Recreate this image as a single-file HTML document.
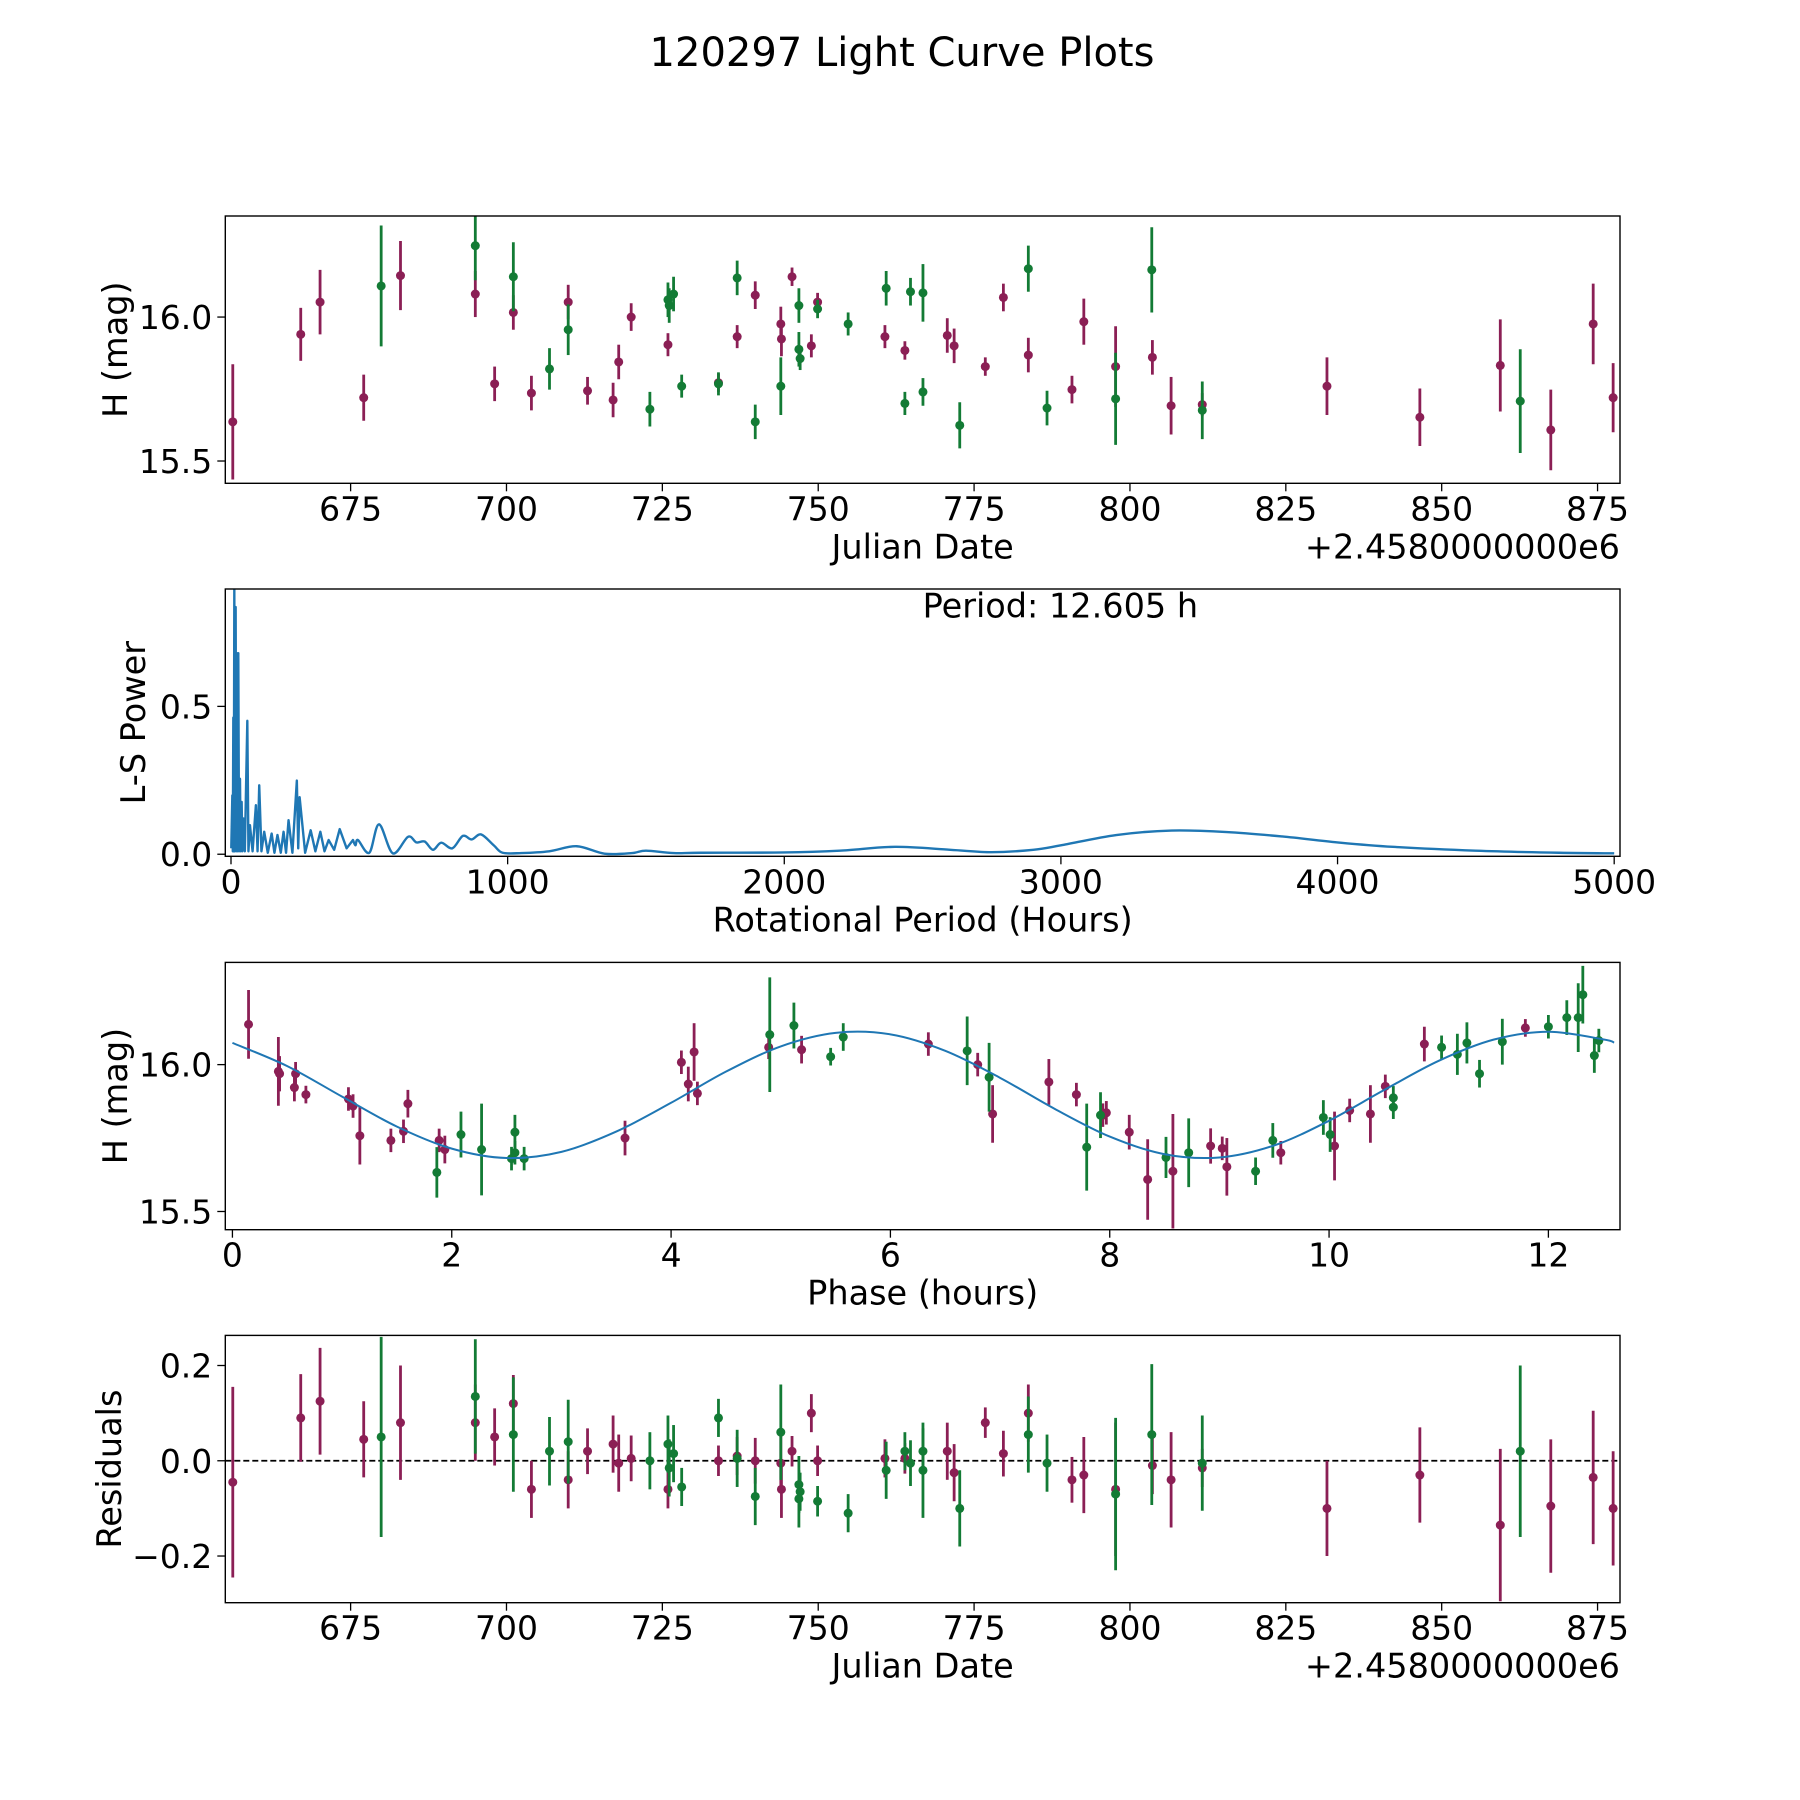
<!DOCTYPE html>
<html><head><meta charset="utf-8"><style>
html,body{margin:0;padding:0;background:#fff;}
svg{display:block;font-family:"DejaVu Sans","Liberation Sans",sans-serif;}
</style></head><body>
<svg id="fig" width="1800" height="1800" viewBox="0 0 1800 1800" xmlns="http://www.w3.org/2000/svg">
<rect width="1800" height="1800" fill="#fff"/>
<text x="902" y="66" font-size="40" text-anchor="middle">120297 Light Curve Plots</text>
</svg>
<script>
// ---- Panel 1 / 4 data (Julian date offset from 2458000) ----
const jdM=[656.1,667.0,670.1,677.1,683.0,695.0,698.1,701.1,704.0,709.9,713.0,717.1,718.0,720.0,725.9,734.0,737.0,739.9,744.0,744.1,745.8,748.9,749.9,760.7,763.9,770.7,771.8,776.8,779.7,783.7,790.7,792.6,797.7,803.6,806.6,811.6,831.6,846.5,859.4,867.5,874.3,877.5];
const magM=[15.636,15.94,16.052,15.72,16.144,16.08,15.768,16.016,15.736,16.052,15.744,15.712,15.844,16.0,15.904,15.772,15.932,16.076,15.976,15.924,16.14,15.90,16.052,15.932,15.884,15.936,15.90,15.828,16.068,15.868,15.748,15.984,15.828,15.86,15.692,15.696,15.76,15.652,15.832,15.608,15.976,15.72];
const errM=[.2,.092,.112,.08,.12,.08,.06,.06,.06,.06,.048,.06,.06,.048,.04,.032,.04,.048,.06,.06,.032,.04,.032,.04,.032,.06,.06,.032,.048,.06,.048,.08,.14,.06,.1,.04,.1,.1,.16,.14,.14,.12];
const resM=[-0.045,.09,.125,.045,.08,.08,.05,.12,-.06,-.04,.02,.035,-.005,.005,-.06,0,.01,0,-.005,-.06,.02,.1,0,.005,.005,.02,-.025,.08,.015,.1,-.04,-.03,-.06,-.01,-.04,-.015,-.1,-.03,-.135,-.095,-.035,-.1];
const jdG=[679.9,695.0,701.1,706.9,709.9,723.0,725.9,726.1,726.8,728.1,734.0,737.0,739.9,744.0,746.9,746.9,747.1,749.9,754.8,760.9,763.9,764.8,766.8,766.8,772.7,783.7,786.7,797.7,803.5,811.6,862.6];
const magG=[16.108,16.248,16.14,15.82,15.956,15.68,16.06,16.04,16.08,15.76,15.768,16.136,15.636,15.76,16.04,15.888,15.856,16.028,15.976,16.1,15.70,16.088,16.084,15.74,15.624,16.168,15.684,15.716,16.164,15.676,15.708];
const errG=[.21,.12,.12,.072,.088,.06,.06,.06,.06,.04,.04,.06,.06,.1,.06,.06,.04,.032,.04,.06,.04,.048,.1,.048,.08,.08,.06,.16,.148,.1,.18];
const resG=[.05,.135,.055,.02,.04,0,.035,-.015,.015,-.055,.09,.005,-.075,.06,-.05,-.08,-.065,-.085,-.11,-.02,.02,-.005,-.02,.02,-.1,.055,-.005,-.07,.055,-.005,.02];
// ---- Panel 2 periodogram ----
const lsPeriod=[1,4.8,6.5,8.4,10,12,14,16.8,19,21.6,24,26.4,29,32.5,35,38.5,41,44.5,50,59,63,68.5,78,90,96,102,110,120,133,147,157,168,180,190,199,208,222,238,243,248,268,288,305,323,338,353,373,393,418,441,450,459,500,535,585,640,670,700,730,760,800,838,870,904,950,982,1050,1150,1250,1350,1450,1500,1600,1700,2000,2200,2400,2600,2750,2900,3000,3200,3400,3600,3800,4000,4200,4500,4800,5000];
const lsPower=[0.02,0.199,0.01,0.462,0.01,0.895,0.01,0.836,0.01,0.68,0.01,0.68,0.01,0.255,0.01,0.177,0.01,0.121,0.01,0.451,0.01,0.098,0.01,0.166,0.01,0.233,0.01,0.076,0.005,0.07,0.005,0.065,0.005,0.076,0.005,0.115,0.005,0.249,0.02,0.193,0.005,0.081,0.01,0.076,0.01,0.048,0.015,0.085,0.02,0.048,0.03,0.048,0.005,0.101,0.003,0.059,0.04,0.043,0.015,0.039,0.02,0.062,0.05,0.067,0.03,0.005,0.004,0.01,0.027,0.002,0.004,0.012,0.004,0.005,0.006,0.012,0.025,0.015,0.007,0.015,0.03,0.065,0.08,0.075,0.06,0.04,0.025,0.012,0.005,0.003];
// ---- Panel 3 phased data ----
const phM=[0.147,0.419,0.43,0.565,0.576,0.67,1.058,1.10,1.162,1.445,1.56,1.60,1.885,1.937,3.58,4.094,4.157,4.21,4.24,4.89,5.19,6.346,6.796,6.932,7.445,7.696,7.937,7.969,8.178,8.346,8.576,8.92,9.026,9.068,9.56,10.05,10.188,10.377,10.513,10.869,11.79];
const pmM=[16.137,15.977,15.969,15.922,15.969,15.898,15.883,15.859,15.758,15.742,15.773,15.867,15.742,15.711,15.75,16.008,15.934,16.043,15.902,16.059,16.051,16.07,16.0,15.832,15.941,15.898,15.828,15.836,15.77,15.609,15.637,15.723,15.715,15.652,15.70,15.723,15.844,15.832,15.926,16.07,16.125];
const peM=[.117,.117,.06,.047,.04,.03,.04,.04,.098,.04,.04,.047,.04,.047,.059,.04,.059,.098,.04,.04,.047,.04,.04,.098,.078,.04,.04,.04,.059,.137,.195,.06,.04,.098,.04,.117,.04,.098,.04,.059,.03];
const phG=[1.864,2.084,2.272,2.545,2.576,2.576,2.66,4.90,5.12,5.455,5.57,6.70,6.90,7.79,7.916,8.513,8.72,9.33,9.487,9.948,10.01,10.586,10.586,11.026,11.17,11.257,11.372,11.58,12.0,12.168,12.272,12.314,12.419,12.46];
const pmG=[15.633,15.762,15.711,15.68,15.77,15.70,15.68,16.102,16.133,16.027,16.094,16.047,15.957,15.719,15.828,15.684,15.70,15.637,15.742,15.82,15.762,15.887,15.855,16.059,16.035,16.074,15.969,16.078,16.129,16.16,16.16,16.238,16.031,16.082];
const peG=[.086,.078,.156,.04,.059,.04,.04,.195,.078,.03,.047,.117,.117,.148,.078,.07,.117,.047,.059,.059,.059,.04,.04,.04,.07,.07,.047,.078,.04,.059,.117,.098,.059,.04];
const fitPhase=[0,0.5,1,1.5,2,2.5,3,3.5,4,4.5,5,5.5,6,6.5,7,7.5,8,8.5,9,9.5,10,10.5,11,11.5,12,12.5,12.6];
const fitMag=[16.074,15.995,15.891,15.789,15.714,15.682,15.703,15.772,15.870,15.976,16.062,16.108,16.103,16.047,15.955,15.849,15.755,15.695,15.684,15.725,15.809,15.913,16.013,16.085,16.112,16.086,16.075];
// ---- ticks ----
const jdTicks=[675,700,725,750,775,800,825,850,875];
const magTicks=[15.5,16.0];
const lsXTicks=[0,1000,2000,3000,4000,5000];
const lsYTicks=[0,0.5];
const phTicks=[0,2,4,6,8,10,12];
const resTicks=[-0.2,0,0.2];

const NS="http://www.w3.org/2000/svg";
const svg=document.getElementById('fig');
const MAG='#8b1f55', GRN='#137b35', BLUE='#1f77b4';
const TICKFS=33, LABFS=33.5;
function mk(tag,attrs,parent){const e=document.createElementNS(NS,tag);for(const k in attrs)e.setAttribute(k,attrs[k]);(parent||svg).appendChild(e);return e;}
const L=225.3,R=1620,H=267.3;
function makeAxes(top,xmin,xmax,ymin,ymax,name){
  const g=mk('g',{});
  
  
  const sx=v=>L+(v-xmin)/(xmax-xmin)*(R-L);
  const sy=v=>top+H-(v-ymin)/(ymax-ymin)*H;
  const clip=mk('clipPath',{id:'clip-'+name},g);
  mk('rect',{x:L,y:top,width:R-L,height:H},clip);
  const plot=mk('g',{'clip-path':'url(#clip-'+name+')'},g);
  return {g,plot,sx,sy,top};
}
function frame(ax){
  const r=mk('rect',{x:L,y:ax.top,width:R-L,height:H,fill:'none',stroke:'#000','stroke-width':1.4},ax.g);
  
  
}
function xTicks(ax,ticks,fmt){
  ticks.forEach(t=>{
    const x=ax.sx(t);
    mk('line',{x1:x,x2:x,y1:ax.top+H,y2:ax.top+H+8,stroke:'#000','stroke-width':1.3},ax.g);
    const tx=mk('text',{x:x,y:ax.top+H+37,'font-size':TICKFS,'text-anchor':'middle'},ax.g);
    tx.textContent=fmt(t);
    
    
  });
}
function yTicks(ax,ticks,fmt){
  ticks.forEach(t=>{
    const y=ax.sy(t);
    mk('line',{x1:L-8,x2:L,y1:y,y2:y,stroke:'#000','stroke-width':1.3},ax.g);
    const tx=mk('text',{x:L-13,y:y+12,'font-size':TICKFS,'text-anchor':'end'},ax.g);
    tx.textContent=fmt(t);
    
    
  });
}
function xLabel(ax,txt,name){
  const t=mk('text',{x:(L+R)/2,y:ax.top+H+75,'font-size':LABFS,'text-anchor':'middle'},ax.g);
  t.textContent=txt;
  
  
}
function yLabel(ax,txt,x,name){
  const cy=ax.top+H/2;
  const t=mk('text',{x:x,y:cy,'font-size':LABFS,'text-anchor':'middle',transform:'rotate(-90 '+x+' '+cy+')'},ax.g);
  t.textContent=txt;
  
  
}
function offsetText(ax){
  const t=mk('text',{x:R,y:ax.top+H+75,'font-size':LABFS,'text-anchor':'end'},ax.g);
  t.textContent='+2.4580000000e6';
  
  
}
function errPoints(ax,xs,ys,es,color,name){
  for(let i=0;i<xs.length;i++){
    const x=ax.sx(xs[i]);
    const l=mk('line',{x1:x,x2:x,y1:ax.sy(ys[i]-es[i]),y2:ax.sy(ys[i]+es[i]),stroke:color,'stroke-width':2.8},ax.plot);
    
    
    const c=mk('circle',{cx:x,cy:ax.sy(ys[i]),r:4.5,fill:color},ax.plot);
    
    
  }
}
function spline(P){
  let fd='';
  for(let i=0;i<P.length-1;i++){
    const p0=P[Math.max(0,i-1)],p1=P[i],p2=P[i+1],p3=P[Math.min(P.length-1,i+2)];
    const c1=[p1[0]+(p2[0]-p0[0])/6,p1[1]+(p2[1]-p0[1])/6],c2=[p2[0]-(p3[0]-p1[0])/6,p2[1]-(p3[1]-p1[1])/6];
    fd+='C'+c1.join(' ')+' '+c2.join(' ')+' '+p2.join(' ');
  }
  return fd;
}
const f1=v=>v.toFixed(1);
const fm=v=>(v<0?'\u2212':'')+Math.abs(v).toFixed(1);

// Panel 1
const a1=makeAxes(216,654.9,878.6,15.4226,16.351,'raw-light-curve-panel');
errPoints(a1,jdM,magM,errM,MAG,'filter-a');
errPoints(a1,jdG,magG,errG,GRN,'filter-b');
frame(a1);xTicks(a1,jdTicks,v=>String(v));yTicks(a1,magTicks,f1);
xLabel(a1,'Julian Date','x-axis-title-julian-date');offsetText(a1);yLabel(a1,'H (mag)',127,'y-axis-title-mag');

// Panel 2
const a2=makeAxes(589,-20.6,5021,-0.007,0.897,'periodogram-panel');
let d='';
const split=lsPeriod.findIndex(p=>p>=441);
for(let i=0;i<=split;i++){d+=(i?'L':'M')+a2.sx(lsPeriod[i]).toFixed(2)+' '+a2.sy(lsPower[i]).toFixed(2);}
const tail=[];
for(let i=split;i<lsPeriod.length;i++)tail.push([+a2.sx(lsPeriod[i]).toFixed(2),+a2.sy(lsPower[i]).toFixed(2)]);
d+=spline(tail);
const pl=mk('path',{d:d,fill:'none',stroke:BLUE,'stroke-width':2.4,'stroke-linejoin':'round'},a2.plot);


frame(a2);xTicks(a2,lsXTicks,v=>String(v));yTicks(a2,lsYTicks,f1);
xLabel(a2,'Rotational Period (Hours)','x-axis-title-period');yLabel(a2,'L-S Power',145,'y-axis-title-power');
const pt=mk('text',{x:a2.sx(2500),y:a2.sy(0.80),'font-size':LABFS},a2.g);
pt.textContent='Period: 12.605 h';



// Panel 3
const a3=makeAxes(962.4,-0.065,12.653,15.438,16.348,'phased-light-curve-panel');
errPoints(a3,phM,pmM,peM,MAG,'phased-filter-a');
errPoints(a3,phG,pmG,peG,GRN,'phased-filter-b');
const P=fitPhase.map((p,i)=>[a3.sx(p),a3.sy(fitMag[i])]);
const fl=mk('path',{d:'M'+P[0][0]+' '+P[0][1]+spline(P),fill:'none',stroke:BLUE,'stroke-width':2},a3.plot);


frame(a3);xTicks(a3,phTicks,v=>String(v));yTicks(a3,magTicks,f1);
xLabel(a3,'Phase (hours)','x-axis-title-phase');yLabel(a3,'H (mag)',127,'y-axis-title-phased-mag');

// Panel 4
const a4=makeAxes(1335.4,654.9,878.6,-0.298,0.2632,'residuals-panel');
const zl=mk('line',{x1:L,x2:R,y1:a4.sy(0),y2:a4.sy(0),stroke:'#000','stroke-width':1.7,'stroke-dasharray':'6 3'},a4.plot);


errPoints(a4,jdM,resM,errM,MAG,'residual-filter-a');
errPoints(a4,jdG,resG,errG,GRN,'residual-filter-b');
frame(a4);xTicks(a4,jdTicks,v=>String(v));yTicks(a4,resTicks,fm);
xLabel(a4,'Julian Date','x-axis-title-residual-date');offsetText(a4);yLabel(a4,'Residuals',121,'y-axis-title-residuals');
</script>
</body></html>
